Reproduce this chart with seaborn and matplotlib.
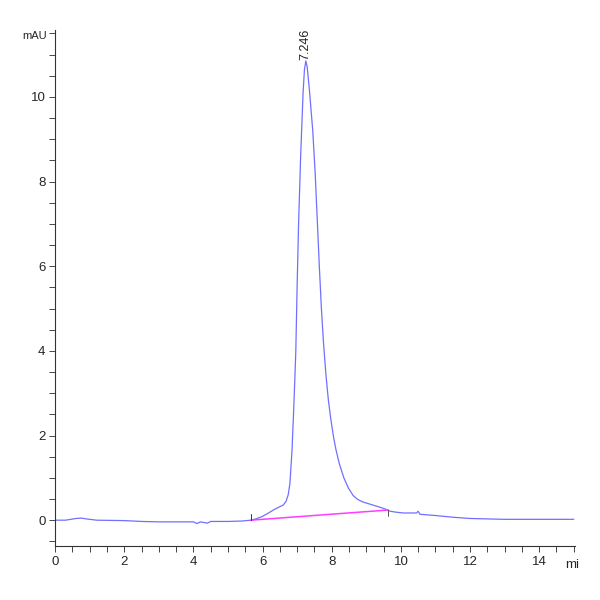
import matplotlib
matplotlib.use('Agg')
import matplotlib.pyplot as plt
import seaborn as sns
import pandas as pd
import numpy as np
from matplotlib.ticker import MultipleLocator

# chromatogram trace (time in min, signal in mAU)
time = [0.0, 0.3, 0.6, 0.75, 0.9, 1.2, 2.0, 2.5, 3.0, 3.5, 4.0, 4.1, 4.2,
        4.4, 4.5, 5.0, 5.4, 5.66, 5.8, 5.97, 6.15, 6.31, 6.45, 6.6, 6.68,
        6.74, 6.79, 6.85, 6.89, 6.93, 6.96, 7.0, 7.04, 7.1, 7.17, 7.21,
        7.25, 7.29, 7.36, 7.45, 7.52, 7.58, 7.64, 7.7, 7.76, 7.83, 7.9,
        7.97, 8.05, 8.12, 8.22, 8.35, 8.48, 8.62, 8.75, 8.9, 9.1, 9.3, 9.45,
        9.59, 9.7, 9.85, 10.07, 10.3, 10.45, 10.5, 10.55, 10.7, 11.0, 11.5,
        12.0, 12.5, 13.0, 14.0, 15.0]
signal = [0.0, 0.0, 0.04, 0.05, 0.03, 0.0, -0.01, -0.03, -0.04, -0.04,
          -0.04, -0.08, -0.04, -0.07, -0.03, -0.03, -0.02, 0.0, 0.03, 0.08,
          0.16, 0.24, 0.3, 0.36, 0.45, 0.6, 0.87, 1.65, 2.44, 3.3, 4.0, 5.6,
          7.0, 8.6, 10.1, 10.65, 10.85, 10.7, 10.1, 9.2, 8.2, 7.1, 6.0, 5.0,
          4.2, 3.45, 2.85, 2.4, 1.97, 1.67, 1.33, 1.0, 0.76, 0.58, 0.49, 0.43,
          0.38, 0.33, 0.29, 0.25, 0.21, 0.19, 0.17, 0.17, 0.17, 0.21, 0.14,
          0.13, 0.11, 0.07, 0.04, 0.03, 0.02, 0.02, 0.02]

# integration baseline of the peak
base_time = [5.66, 9.63]
base_signal = [0.0, 0.24]

peak_rt = 7.246
peak_height = 10.85

df = pd.DataFrame({'Time': time, 'Signal': signal})
base = pd.DataFrame({'Time': base_time, 'Signal': base_signal})

sns.set_style('ticks')
plt.rcParams['font.family'] = ['Liberation Sans', 'DejaVu Sans']

fig = plt.figure(figsize=(6, 6), dpi=100)
ax = fig.add_axes([0.092, 0.09, 0.866, 0.86])

sns.lineplot(data=df, x='Time', y='Signal', ax=ax, color='#7070ff', linewidth=0.9)
sns.lineplot(data=base, x='Time', y='Signal', ax=ax, color='#ff3cff', linewidth=1.1)

# start/end marks of integration
ax.plot([base_time[0]] * 2, [base_signal[0], base_signal[0] + 0.14], color='#333333', lw=0.7)
ax.plot([base_time[1]] * 2, [base_signal[1], base_signal[1] - 0.14], color='#555555', lw=0.7)

ax.text(peak_rt, peak_height + 0.02, '7.246', rotation=90, ha='center', va='bottom',
        fontsize=9, color='#222222')

ax.set_xlim(0, 15.03)
ax.set_ylim(-0.61, 11.58)
ax.xaxis.set_major_locator(MultipleLocator(2))
ax.xaxis.set_minor_locator(MultipleLocator(0.5))
ax.yaxis.set_major_locator(MultipleLocator(2))
ax.yaxis.set_minor_locator(MultipleLocator(0.5))
ax.tick_params(which='both', direction='out', length=4, width=0.7, color='#444444',
               labelsize=9.5, pad=3)
ax.set_xlabel('')
ax.set_ylabel('')
sns.despine(ax=ax)
for s in ['left', 'bottom']:
    ax.spines[s].set_linewidth(0.8)
    ax.spines[s].set_color('#333333')

fig.text(0.079, 0.94, 'mAU', fontsize=8, ha='right', va='center')
fig.text(0.942, 0.058, 'mi', fontsize=9.5, ha='left', va='center')

fig.savefig('out.png', dpi=100)
